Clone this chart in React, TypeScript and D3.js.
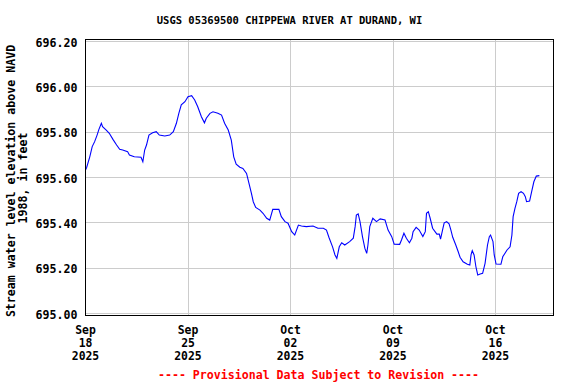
import React from "react";
import * as d3 from "d3";

const TITLE = "USGS 05369500 CHIPPEWA RIVER AT DURAND, WI";
const Y_LABEL_1 = "Stream water level elevation above NAVD";
const Y_LABEL_2 = "1988, in feet";
const FOOTER = "---- Provisional Data Subject to Revision ----";

// hours since 2025-09-18 00:00
const hours = [
  0, 2, 7, 11, 15, 19, 22, 26, 28, 34, 39, 45, 51, 56, 61, 69, 72, 80, 91, 94,
  97, 100, 104, 110, 116, 121, 130, 138, 144, 149, 153, 157, 163, 168, 174, 179,
  184, 190, 195, 198, 204, 209, 217, 223, 228, 234, 239, 243, 247, 253, 258, 264,
  268, 272, 275, 279, 286, 291, 297, 302, 307, 317, 321, 327, 332, 338, 343, 349,
  354, 362, 373, 381, 390, 395, 399, 405, 409, 412, 416, 420, 425, 433, 439, 442,
  444, 447, 450, 454, 458, 461, 463, 466, 471, 477, 483, 491, 496, 502, 506, 515,
  518, 522, 526, 531, 535, 537, 542, 547, 553, 557, 559, 562, 565, 569, 576, 580,
  582, 586, 588, 592, 596, 599, 602, 607, 611, 614, 619, 626, 630, 632, 634, 637,
  640, 643, 647, 651, 655, 659, 662, 664, 668, 670, 673, 681, 684, 691, 696, 699,
  701, 704, 707, 710, 714, 718, 721, 723, 728, 732, 735, 739, 744,
];
const levels = [
  695.631, 695.643, 695.689, 695.734, 695.756, 695.785, 695.81, 695.837, 695.822, 695.807,
  695.793, 695.766, 695.741, 695.722, 695.719, 695.712, 695.697, 695.689, 695.687, 695.667,
  695.719, 695.741, 695.785, 695.795, 695.8, 695.785, 695.781, 695.785, 695.8, 695.837,
  695.881, 695.918, 695.932, 695.954, 695.959, 695.94, 695.91, 695.866, 695.839, 695.859,
  695.881, 695.888, 695.881, 695.873, 695.837, 695.807, 695.763, 695.689, 695.657, 695.643,
  695.638, 695.616, 695.572, 695.528, 695.491, 695.466, 695.454, 695.44, 695.418, 695.41,
  695.457, 695.457, 695.425, 695.403, 695.396, 695.359, 695.344, 695.388, 695.384, 695.381,
  695.384, 695.374, 695.374, 695.366, 695.334, 695.292, 695.256, 695.241, 695.292, 695.31,
  695.3, 695.315, 695.33, 695.381, 695.432, 695.437, 695.403, 695.337, 695.285, 695.263,
  695.3, 695.381, 695.418, 695.403, 695.415, 695.41, 695.366, 695.337, 695.304, 695.303,
  695.322, 695.352, 695.33, 695.31, 695.33, 695.359, 695.378, 695.366, 695.337, 695.359,
  695.44, 695.447, 695.418, 695.374, 695.348, 695.348, 695.326, 695.374, 695.398, 695.403,
  695.393, 695.366, 695.334, 695.3, 695.27, 695.246, 695.226, 695.215, 695.212, 695.256,
  695.275, 695.256, 695.204, 695.168, 695.172, 695.175, 695.219, 695.3, 695.337, 695.344,
  695.315, 695.256, 695.216, 695.215, 695.248, 695.278, 695.292, 695.344, 695.425, 695.462,
  695.491, 695.528, 695.535, 695.528, 695.513, 695.491, 695.494, 695.543, 695.579, 695.604,
  695.606,
];

const yTicks = [695.0, 695.2, 695.4, 695.6, 695.8, 696.0, 696.2];
const xTickDates = ["2025-09-18", "2025-09-25", "2025-10-02", "2025-10-09", "2025-10-16"];
const xTickLabels = [
  ["Sep", "18", "2025"],
  ["Sep", "25", "2025"],
  ["Oct", "02", "2025"],
  ["Oct", "09", "2025"],
  ["Oct", "16", "2025"],
];

const START = Date.UTC(2025, 8, 18);
const END = Date.UTC(2025, 9, 20);

export default function App() {
  const W = 576, H = 384;
  const left = 85.5, right = 553.5, top = 39.5, bottom = 315.5;
  const x = d3.scaleUtc().domain([new Date(START), new Date(END)]).range([left, right + 0.5]);
  const y = d3.scaleLinear().domain([695, 696.2]).range([313, 41]);

  const data = hours.map((h, i) => ({ t: new Date(START + h * 3600e3), v: levels[i] }));
  const line = d3
    .line<{ t: Date; v: number }>()
    .x((d) => x(d.t))
    .y((d) => y(d.v));

  const font = "'DejaVu Sans Mono', monospace";
  const xTicks = xTickDates.map((s) => new Date(s + "T00:00:00Z"));

  return (
    <svg
      width={W}
      height={H}
      style={{ position: "absolute", left: 0, top: 0, background: "#fff" }}
      fontFamily={font}
      fontWeight="bold"
    >
      <rect x={0} y={0} width={W} height={H} fill="#fff" />
      <text x={289.5} y={24} textAnchor="middle" fontSize={10.5} fill="#000">
        {TITLE}
      </text>
      {yTicks.map((t) => (
        <line key={"gy" + t} x1={left} x2={right} y1={Math.round(y(t)) + 0.5} y2={Math.round(y(t)) + 0.5} stroke="#cccccc" strokeWidth={1} />
      ))}
      {xTicks.slice(1).map((d, i) => (
        <line key={"gx" + i} x1={Math.round(x(d)) + 0.5} x2={Math.round(x(d)) + 0.5} y1={top} y2={bottom} stroke="#cccccc" strokeWidth={1} />
      ))}
      <path d={line(data) || ""} fill="none" stroke="#0000ff" strokeWidth={1.1} />
      <rect x={left} y={top} width={right - left} height={bottom - top} fill="none" stroke="#000" strokeWidth={1} />
      {yTicks.map((t) => (
        <text key={"ty" + t} x={77.5} y={y(t) + 5.5} textAnchor="end" fontSize={11.6} fill="#000">
          {t.toFixed(2)}
        </text>
      ))}
      {xTicks.map((d, i) => (
        <g key={"tx" + i}>
          {xTickLabels[i].map((s, j) => (
            <text key={j} x={x(d)} y={334 + j * 13} textAnchor="middle" fontSize={11.4} fill="#000">
              {s}
            </text>
          ))}
        </g>
      ))}
      <text transform="translate(15,181) rotate(-90)" textAnchor="middle" fontSize={11.6} fill="#000">
        {Y_LABEL_1}
      </text>
      <text transform="translate(27,178) rotate(-90)" textAnchor="middle" fontSize={11.6} fill="#000">
        {Y_LABEL_2}
      </text>
      <text x={318.5} y={379} textAnchor="middle" fontSize={11.6} fill="#ff0000">
        {FOOTER}
      </text>
    </svg>
  );
}
